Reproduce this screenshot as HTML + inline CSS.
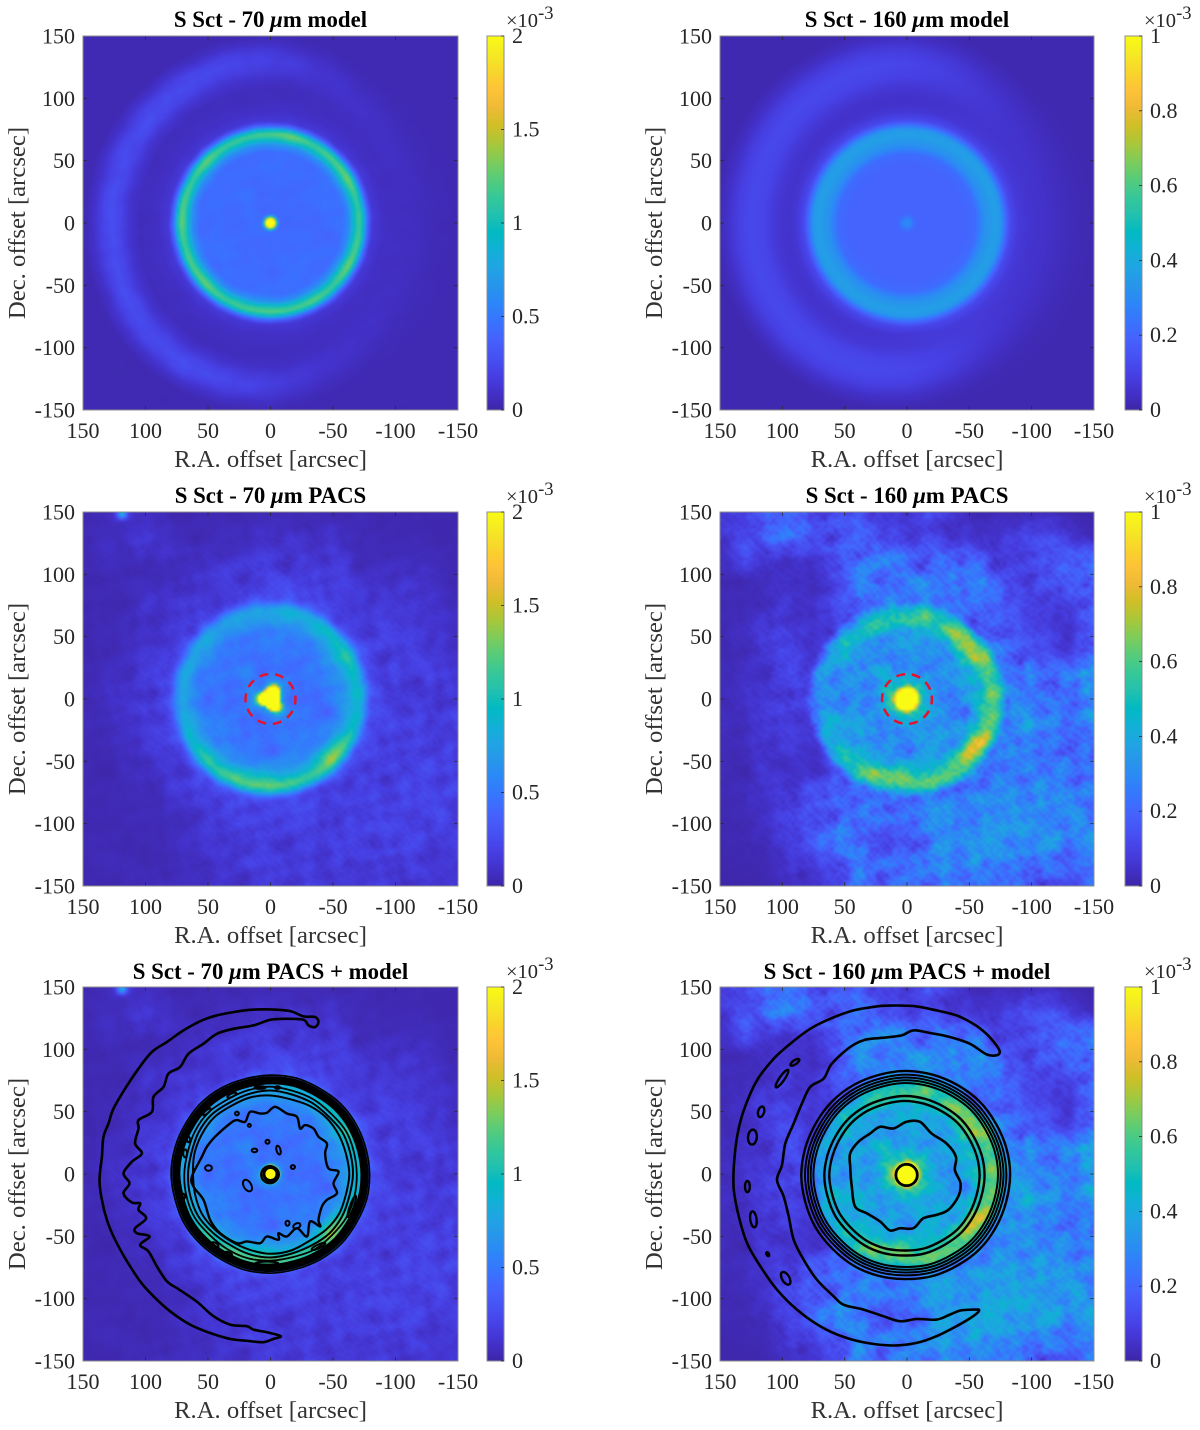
<!DOCTYPE html>
<html lang="en">
<head>
<meta charset="utf-8">
<title>S Sct model and PACS maps</title>
<style>
html,body{margin:0;padding:0;background:#fff;}
#figure{position:relative;width:1200px;height:1430px;overflow:hidden;background:#fff;}
canvas{position:absolute;display:block;}
#overlay{position:absolute;left:0;top:0;}
text{font-family:"Liberation Serif","Times New Roman",serif;fill:#262626;}
.title{font-size:22.8px;font-weight:bold;fill:#000;text-anchor:middle;}
.axis-label{font-size:24.7px;fill:#333;text-anchor:middle;}
.tick{font-size:22px;}
.mult{font-size:20.5px;}
.sup{font-size:18.5px;}
</style>
</head>
<body>
<div id="figure">
<canvas id="img0" width="375" height="374" style="left:83px;top:36px"></canvas>
<canvas id="img1" width="374" height="374" style="left:720px;top:36px"></canvas>
<canvas id="img2" width="375" height="374" style="left:83px;top:512px"></canvas>
<canvas id="img3" width="374" height="374" style="left:720px;top:512px"></canvas>
<canvas id="img4" width="375" height="374" style="left:83px;top:987px"></canvas>
<canvas id="img5" width="374" height="374" style="left:720px;top:987px"></canvas>
<canvas id="cb0" width="17" height="374" style="left:487px;top:36px"></canvas>
<canvas id="cb1" width="17" height="374" style="left:1125px;top:36px"></canvas>
<canvas id="cb2" width="17" height="374" style="left:487px;top:512px"></canvas>
<canvas id="cb3" width="17" height="374" style="left:1125px;top:512px"></canvas>
<canvas id="cb4" width="17" height="374" style="left:487px;top:987px"></canvas>
<canvas id="cb5" width="17" height="374" style="left:1125px;top:987px"></canvas>
<svg id="overlay" width="1200" height="1430" viewBox="0 0 1200 1430" xmlns="http://www.w3.org/2000/svg">
<text class="title" x="270.5" y="27">S Sct - 70 <tspan font-style="italic">μ</tspan>m model</text>
<text class="title" x="907" y="27">S Sct - 160 <tspan font-style="italic">μ</tspan>m model</text>
<text class="title" x="270.5" y="503">S Sct - 70 <tspan font-style="italic">μ</tspan>m PACS</text>
<text class="title" x="907" y="503">S Sct - 160 <tspan font-style="italic">μ</tspan>m PACS</text>
<text class="title" x="270.5" y="979">S Sct - 70 <tspan font-style="italic">μ</tspan>m PACS + model</text>
<text class="title" x="907" y="979">S Sct - 160 <tspan font-style="italic">μ</tspan>m PACS + model</text>

<text class="axis-label" x="270.5" y="467">R.A. offset [arcsec]</text>
<text class="axis-label" x="907" y="467">R.A. offset [arcsec]</text>
<text class="axis-label" x="270.5" y="943">R.A. offset [arcsec]</text>
<text class="axis-label" x="907" y="943">R.A. offset [arcsec]</text>
<text class="axis-label" x="270.5" y="1418">R.A. offset [arcsec]</text>
<text class="axis-label" x="907" y="1418">R.A. offset [arcsec]</text>

<text class="axis-label" transform="translate(25,223) rotate(-90)">Dec. offset [arcsec]</text>
<text class="axis-label" transform="translate(662,223) rotate(-90)">Dec. offset [arcsec]</text>
<text class="axis-label" transform="translate(25,699) rotate(-90)">Dec. offset [arcsec]</text>
<text class="axis-label" transform="translate(662,699) rotate(-90)">Dec. offset [arcsec]</text>
<text class="axis-label" transform="translate(25,1174) rotate(-90)">Dec. offset [arcsec]</text>
<text class="axis-label" transform="translate(662,1174) rotate(-90)">Dec. offset [arcsec]</text>

<text class="mult" x="506" y="27">×10<tspan class="sup" dy="-8">-3</tspan></text>
<text class="mult" x="1144" y="27">×10<tspan class="sup" dy="-8">-3</tspan></text>
<text class="mult" x="506" y="503">×10<tspan class="sup" dy="-8">-3</tspan></text>
<text class="mult" x="1144" y="503">×10<tspan class="sup" dy="-8">-3</tspan></text>
<text class="mult" x="506" y="978">×10<tspan class="sup" dy="-8">-3</tspan></text>
<text class="mult" x="1144" y="978">×10<tspan class="sup" dy="-8">-3</tspan></text>
</svg>
</div>
<script>
/* ---------- shared axis data ---------- */
const xTickValues = [150,100,50,0,-50,-100,-150];
const yTickValues = [150,100,50,0,-50,-100,-150];
const colorTicks70 = [0,0.5,1,1.5,2];
const colorTickLabels70 = ["0","0.5","1","1.5","2"];
const colorTicks160 = [0,0.2,0.4,0.6,0.8,1];
const colorTickLabels160 = ["0","0.2","0.4","0.6","0.8","1"];
const colormapStops = ["#3e26a8","#4332cb","#4741e5","#4752f4","#4563fd","#3875fe","#2d87f7","#2796eb","#20a5e3","#12b1d6","#02bac3","#24c1ae","#37c897","#57cc7a","#80cc59","#abc739","#d1bf27","#efba36","#fec338","#f9d52c","#f5e924","#f9fb15"];

/* ---------- 70 um model (values in 1e-3) ---------- */
const model70Ambient = [0.03];
const model70DiskRadius = [0,60,66,72,75,78,82,90,100,150];
const model70DiskValue = [0.38,0.40,0.43,0.46,0.40,0.22,0.10,0.05,0.03,0];
const model70RimRidge = [71];
const model70RimAmp = [0.66,0.72,0.8,0.68,0.74,0.68,0.76,0.72,0.66,0.8,0.74,0.68,0.8,0.72,0.66,0.8,0.68,0.68,0.74,0.8,0.68,0.74,0.8,0.66];
const model70RimOffset = [-14,-8,-4,0,3,6,10];
const model70RimWeight = [0,0.25,0.72,1,0.72,0.25,0];
const model70ShellRidge = [112,112,112,115,119,125,130,131,132,131,130,128,127,127,128,128,129,130,130,127,122,117,113,112];
const model70ShellAmp = [0.015,0.015,0.02,0.03,0.045,0.07,0.12,0.17,0.2,0.2,0.2,0.2,0.21,0.2,0.2,0.2,0.2,0.17,0.14,0.08,0.045,0.03,0.02,0.015];
const model70ShellOffset = [-22,-14,-7,0,7,14,22];
const model70ShellWeight = [0,0.3,0.78,1,0.78,0.3,0];
const model70StarRadius = [4];
const model70StarScale = [0,0.75,1.1,1.5,2];
const model70StarValue = [1.7,1.7,1.0,0.2,0];

/* ---------- 160 um model ---------- */
const model160Ambient = [0.012];
const model160DiskRadius = [0,3,6,10,45,55,62,70,75,79,83,90,100,150];
const model160DiskValue = [0.28,0.27,0.2,0.18,0.18,0.2,0.3,0.35,0.33,0.2,0.1,0.05,0.03,0];
const model160ShellRidge = [103,103,103,105,109,114,119,122,124,125,125,125,125,125,126,127,127,128,128,125,119,113,107,103];
const model160ShellAmp = [0.012,0.012,0.015,0.02,0.035,0.06,0.08,0.09,0.09,0.09,0.09,0.09,0.09,0.09,0.09,0.09,0.09,0.09,0.08,0.06,0.035,0.02,0.015,0.012];
const model160ShellOffset = [-30,-20,-10,0,10,20,30];
const model160ShellWeight = [0,0.3,0.78,1,0.78,0.3,0];

/* ---------- 70 um PACS ---------- */
const pacs70Ambient = [
[.05,.1,.08,.05,.05,.05,.05,.05,.05,.05,.05,.05,.05],
[.07,.08,.13,.08,.06,.07,.12,.1,.12,.06,.05,.05,.05],
[.05,.06,.05,.07,.12,.15,.17,.17,.14,.1,.1,.09,.05],
[.05,.05,.1,.12,.1,.12,.17,.19,.17,.12,.15,.14,.07],
[.05,.05,.09,.12,.15,.17,.17,.17,.17,.17,.15,.15,.09],
[.05,.07,.14,.14,.15,.17,.17,.17,.17,.17,.17,.17,.1],
[.05,.09,.15,.14,.15,.17,.17,.17,.17,.17,.15,.17,.15],
[.05,.07,.14,.14,.15,.17,.17,.17,.17,.17,.15,.19,.17],
[.05,.05,.09,.14,.15,.17,.17,.17,.17,.17,.17,.19,.19],
[.05,.05,.06,.12,.17,.17,.19,.17,.17,.17,.17,.19,.2],
[.05,.05,.05,.07,.14,.17,.17,.17,.17,.19,.2,.19,.17],
[.05,.07,.05,.06,.1,.14,.17,.14,.17,.17,.19,.17,.15],
[.05,.05,.07,.09,.09,.1,.14,.17,.15,.14,.15,.15,.12]];
const pacs70DiskRadius = [0,60,72,76,80,85,95,200];
const pacs70DiskValue = [0.3,0.33,0.4,0.3,0.14,0.07,0.02,0];
const pacs70RimRidge = [69,69,69,69,69,69,69.5,70,70,70,70,70,70,70,70,70,70,70,70,70,70,70,69,69];
const pacs70RimAmp = [0.38,0.42,0.6,0.95,0.6,0.62,0.78,0.75,0.65,0.65,0.45,0.32,0.26,0.26,0.26,0.28,0.28,0.28,0.28,0.3,0.36,0.46,0.55,0.46];
const pacs70RimOffset = [-24,-14,-7,0,4,8,12];
const pacs70RimWeight = [0,0.18,0.6,1,0.68,0.2,0];
const pacs70StarRadius = [7,7.5,9,10.5,10.5,9.5,8,7,6.3,6.3,8,9.5,9.5,9.5,8,7,7.5,8.5,9.5,10.5,10.5,9.5,8,7.5];
const pacs70StarScale = [0,0.9,1.05,1.25,1.6,2.5];
const pacs70StarValue = [2,2,1.4,0.4,0.1,0];
const pacs70ContourStarRadius = [6];
const pacs70SourceX = [118.8];
const pacs70SourceY = [148.4];
const pacs70SourceAmp = [0.75];
const pacs70SourceWidth = [3.5];

/* ---------- 160 um PACS ---------- */
const pacs160Ambient = [
[.1,.12,.14,.18,.15,.12,.14,.08,.05,.12,.06,.03,.03,.04,.05,.03,.03],
[.08,.12,.18,.22,.14,.16,.14,.1,.08,.08,.05,.05,.06,.1,.1,.08,.04],
[.05,.1,.08,.06,.05,.14,.2,.22,.18,.18,.2,.14,.1,.1,.14,.16,.2],
[.03,.03,.03,.04,.03,.08,.22,.22,.2,.24,.22,.2,.14,.08,.12,.18,.2],
[.03,.03,.05,.05,.03,.08,.18,.2,.22,.2,.2,.2,.14,.1,.08,.1,.16],
[.03,.03,.07,.07,.03,.07,.13,.13,.13,.13,.13,.15,.16,.08,.08,.05,.18],
[.03,.03,.06,.08,.03,.09,.12,.12,.12,.12,.12,.13,.2,.14,.1,.08,.2],
[.03,.03,.05,.08,.06,.11,.12,.12,.12,.12,.12,.14,.22,.22,.2,.22,.28],
[.03,.04,.06,.08,.06,.11,.12,.12,.12,.12,.12,.14,.22,.24,.22,.24,.3],
[.03,.03,.07,.06,.04,.11,.12,.12,.12,.12,.12,.14,.22,.26,.24,.24,.26],
[.03,.03,.05,.05,.03,.09,.12,.12,.12,.12,.12,.16,.22,.24,.2,.2,.22],
[.03,.03,.05,.03,.03,.09,.14,.12,.12,.12,.14,.18,.24,.24,.22,.2,.22],
[.03,.03,.05,.08,.1,.14,.18,.2,.22,.24,.24,.26,.26,.26,.24,.24,.24],
[.03,.03,.04,.1,.14,.18,.2,.18,.18,.24,.26,.28,.3,.3,.28,.26,.26],
[.03,.03,.05,.08,.12,.22,.2,.1,.14,.24,.28,.3,.34,.3,.3,.28,.3],
[.03,.03,.03,.08,.08,.14,.22,.16,.18,.26,.28,.3,.28,.26,.24,.22,.24],
[.03,.03,.03,.05,.06,.1,.2,.16,.2,.24,.22,.22,.2,.16,.14,.12,.2]];
const pacs160DiskRadius = [0,65,72,76,80,200];
const pacs160DiskValue = [0.19,0.2,0.18,0.12,0.04,0];
const pacs160RimRidge = [68,68,68,68,67,66,65,66,66,67,68,69,70,69,68,67,66,66,66,66,66,66,67,68];
const pacs160RimAmp = [0.24,0.28,0.44,0.4,0.28,0.26,0.31,0.31,0.32,0.26,0.18,0.11,0.07,0.07,0.13,0.18,0.23,0.18,0.18,0.22,0.3,0.44,0.36,0.26];
const pacs160RimOffset = [-18,-10,-5,0,5,9,13];
const pacs160RimWeight = [0,0.35,0.8,1,0.8,0.35,0];
const pacs160StarRadius = [9];
const pacs160StarScale = [0,0.9,1.05,1.3,2.2,3.2];
const pacs160StarValue = [1,1,0.6,0.22,0.08,0];

/* ---------- speckle texture ---------- */
const speckleTile = [
[3,-5,7,-2,-8,4,1,-6,9,-3,2,-7,5,0,-4,6],
[-6,2,-1,8,3,-7,5,2,-4,7,-8,1,-3,6,9,-2],
[5,8,-4,-7,1,6,-3,9,0,-5,4,3,-9,2,-1,7],
[-2,0,6,3,-9,-1,8,-4,5,2,-6,7,1,-8,4,-5],
[7,-3,-8,5,2,9,-6,1,-7,4,0,-2,8,3,-5,-1],
[1,6,4,-5,7,-2,-9,3,8,-1,5,-6,-3,9,2,-4],
[-8,-4,2,9,-3,5,0,-7,6,1,-2,8,4,-6,7,3],
[4,9,-6,-1,6,-8,3,7,-2,-5,9,0,-4,1,-7,5],
[-1,3,7,-9,0,2,-5,8,4,-3,-7,6,2,5,-6,-8],
[8,-7,1,4,-6,7,9,-2,-4,6,3,-9,-1,7,0,2],
[-5,2,-3,6,8,-4,1,5,-8,9,-1,4,7,-2,3,-6],
[2,-9,5,0,-7,3,-6,4,7,-2,8,1,-5,6,-3,9],
[6,4,-2,-8,5,1,7,-3,-9,3,-4,2,9,-7,8,-1],
[-3,7,9,2,-4,-6,4,0,1,8,5,-8,-2,3,-9,6],
[9,-1,-7,3,6,8,-2,-5,2,-6,7,-3,0,4,5,-4],
[0,5,3,-6,-1,-5,6,9,-3,4,-9,8,-7,-4,1,2]];

/* ---------- model contours (arcsec) ---------- */
const crescent70X = [-38.4,-35.7,-26.4,-15.7,.3,16.3,29.6,42.9,54.9,69.6,82.9,94.9,105.6,116.3,125.6,129.6,133.6,134.9,136.8,134.9,130.9,125.6,116.3,104.3,93.6,80.3,64.3,48.3,32.3,16.3,5.6,-2.4,-8.3,.3,13.6,18.9,32.3,45.6,57.6,66.9,74.9,82.9,90.9,97.6,104.3,96.8,106.9,108.3,99.5,105.6,104.3,110.9,117.6,112.8,117.6,110.9,102.9,108.3,105.6,105.6,94.9,93.6,85.6,81.6,72.3,65.6,53.6,42.9,29.6,13.6,.3,-13.1,-26.4,-30.4,-35.7];
const crescent70Y = [121.9,125.9,126.4,130.7,132,131.7,129.9,127.2,123.2,115.2,105.9,97.9,84.5,68.5,52.5,40.5,29.9,13.9,-4.8,-20.8,-36.8,-50.1,-67.5,-86.1,-98.1,-110.1,-120.8,-127.5,-132.3,-134.1,-134.9,-132.3,-130.1,-127.5,-124.8,-122.1,-120.8,-114.1,-103.5,-96.8,-91.5,-86.1,-74.1,-62.1,-56.8,-50.1,-47.5,-43.5,-35.5,-28.8,-23.5,-22.9,-15.5,-7.5,.5,9.9,16.5,24.5,36.5,43.2,49.9,61.9,69.9,80.5,85.9,96.5,104.5,112.5,116.5,119.2,123.7,124.5,123.7,119.2,117.9];
const inner70X = [62.9,54.9,50.9,44.3,32.3,26.9,20.3,16.3,8.3,2.9,-3.7,-13.1,-21.1,-23.7,-27.7,-34.4,-38.4,-45.1,-43.7,-46.4,-54.4,-50.4,-53.1,-45.1,-41.1,-38.4,-39.7,-31.7,-29.1,-21.1,-13.1,-6.4,-6.4,2.9,8.3,18.9,26.9,40.3,48.3,53.6,61.6];
const inner70Y = [-2.1,13.9,21.9,29.9,40.5,43.2,41.9,49.9,48.5,49.1,53.9,48.5,45.9,36.5,39.2,36.5,29.9,24.5,16.5,4.5,1.9,-7.5,-15.5,-20.8,-26.1,-36.8,-42.1,-38.1,-50.1,-43.5,-50.1,-47.5,-52.8,-50.1,-55.5,-54.1,-55.5,-47.5,-36.8,-20.8,-10.1];
const island70X = [26.9,17,2.4,12.8,-6.4,-17.9,49.6,18.4,-13.6,-21,65.6,68.3,69.6,44.3,33.6,-5.6,8.3,30.9,50.9,-38.4,2.9,-65];
const island70Y = [48.5,39,25.9,18.9,19.2,5.6,4.8,-9.3,-39.5,-41.6,27.7,16.5,-18,-56.8,-64,69.3,69.3,63.2,49.9,-58.1,-71.5,-26];
const island70RadiusA = [1.5,1.2,1.6,2.2,1.6,1.7,2.7,3,1.6,3,1.2,1.5,1.2,3,3,2,4.5,4,4,6,9,1.5];
const island70RadiusB = [1.5,1.2,1.6,1.4,3.6,1.5,2.2,5,2,2,2.2,3.2,2.2,1.5,1.3,1,1,1.3,1.3,1.4,1.2,9];
const island70Tilt = [0,0,0,0,-15,0,0,-30,0,-25,0,0,0,30,20,0,0,-25,-40,-25,0,20];
const ringAngles = [-180,-165,-150,-135,-120,-105,-90,-75,-60,-45,-30,-15,0,15,30,45,60,75,90,105,120,135,150,165];
const ring70Levels = [79.3,77.8,76.6,75.6,74.6,73.6,72.6];
const ring70Shape = [0,.3,-.2,.3,0,-.3,.2,.3,-.2,0,.3,-.3,.2,0,-.2,.3,.2,-.3,0,.3,-.2,.2,0,-.3];
const ring70Outer = [69,69.5,70,69.5,70,69,69.5,70,69.5,69,70,69.5,69,68.5,69.5,70,69,69.5,70,69,69,68.5,69.5,69];
const ring70Middle = [66,65.5,66.5,67,66,66,67,66.5,65.5,66,67,66.5,66,65.5,66.5,67,66,66.5,67,66,66,65.5,66.5,66];
const ring70Inner = [63,62.5,63.5,63,62,63.5,64,63,62.5,63,63.5,62.5,62,63,63.5,64,63,63.5,63,62,63,63.5,63,62.5];
const star70ContourX = [0,-.6,.6];
const star70ContourY = [0,-.3,-.6];
const star70ContourR = [5,6,6.8];

const crescent160X = [-74.4,-71.7,-63.7,-53.1,-39.7,-23.7,-7.7,8.3,24.3,42.9,61.6,77.6,93.6,106.9,120.3,130.9,136.3,138.9,138.9,134.9,128.3,117.6,104.3,88.3,69.6,50.9,32.3,10.9,-7.7,-23.7,-39.7,-53.1,-57.9,-53.1,-42.4,-34.4,-23.7,-7.7,5.6,18.9,34.9,50.9,58.9,72.3,82.9,90.9,94.9,98.9,104.3,100.3,97.6,90.9,84.3,77.6,66.9,60.3,45.6,33.6,18.9,4.3,-5.1,-18.4,-34.4,-50.4,-63.7,-71.7];
const crescent160Y = [97.9,103.2,112.5,120.5,127.2,131.2,134.4,135.2,134.4,131.2,124.5,116.5,104.5,92.5,75.2,51.2,29.9,5.9,-12.8,-34.1,-55.5,-74.1,-92.8,-108.8,-122.1,-130.7,-135.5,-137.6,-135.5,-130.1,-122.1,-114.1,-109.3,-108.8,-109.6,-112.8,-116.8,-116.3,-118.1,-114.1,-108.8,-104.8,-98.1,-84.8,-68.8,-52.8,-34.1,-18.1,-4.8,7.2,24.5,40.5,56.5,69.9,76.5,88.5,101.9,107.7,109.3,111.2,115.2,113.1,109.9,104.5,96,95.2];
const inner160X = [45.6,38.9,29.6,21.6,10.9,.3,-10.4,-19.7,-31.7,-39.2,-38.4,-42.9,-41.1,-33.1,-23.7,-13.1,-5.1,5.6,13.6,21.6,32.3,41.6,44.3,45.6];
const inner160Y = [16.5,25.9,32.5,37.9,36.5,41.9,41.9,32.5,24.5,13.9,3.2,-7.5,-18.1,-28.8,-32.8,-35.5,-43.5,-43.5,-45.3,-38.1,-31.5,-26.1,-10.1,5.9];
const island160X = [89.9,100.3,117,124,128,123.2,111.7,97.3];
const island160Y = [89.6,76.5,49.9,29.6,-10.1,-36.3,-64.3,-83.7];
const island160RadiusA = [4.2,8.5,2.4,3.5,1.9,2.6,1,3];
const island160RadiusB = [1.6,2,4.3,6,4.5,6.4,1.8,5.6];
const island160Tilt = [-35,-55,15,5,0,-8,-30,-30];
const ring160Levels = [83.5,80.5,78.2,76,73.8,64,60];
const ring160CenterX = [1,1,1,1,1,2,2];
const ring160CenterY = [-1,-1,-1,-1,-1,-1.6,-1.6];
const ring160LineWidth = [2.4,2,2,2,2,2.4,2.4];
const ring160Shape = [.2,-.2,0,.3,-.1,.2,-.2,.1,.2,-.2,.1,-.1,.3,0,-.2,.2,.1,-.2,.2,0,-.1,.2,-.2,.1];
const star160ContourX = [.3];
const star160ContourY = [-.8];
const star160ContourR = [8.6];

/* ---------- aperture circle (arcsec) ---------- */
const apertureRadius = [20];

/* ---------- panels ---------- */
const spec70Model = {max:2,cells:187,ambient:model70Ambient,diskR:model70DiskRadius,diskV:model70DiskValue,
  arcs:[{ridge:model70RimRidge,amp:model70RimAmp,off:model70RimOffset,wt:model70RimWeight},
        {ridge:model70ShellRidge,amp:model70ShellAmp,off:model70ShellOffset,wt:model70ShellWeight}],
  starR:model70StarRadius,starT:model70StarScale,starV:model70StarValue,fine:0.004,med:0.02,cloud:0.025,cap:0.3,gain:1,arcGain:1,bias:0};
const spec160Model = {max:1,cells:187,ambient:model160Ambient,diskR:model160DiskRadius,diskV:model160DiskValue,
  arcs:[{ridge:model160ShellRidge,amp:model160ShellAmp,off:model160ShellOffset,wt:model160ShellWeight}],
  fine:0,med:0,cloud:0,cap:0.3,gain:1,arcGain:1,bias:0};
const spec70Pacs = {max:2,cells:135,ambient:pacs70Ambient,diskR:pacs70DiskRadius,diskV:pacs70DiskValue,
  arcs:[{ridge:pacs70RimRidge,amp:pacs70RimAmp,off:pacs70RimOffset,wt:pacs70RimWeight}],
  starR:pacs70StarRadius,starT:pacs70StarScale,starV:pacs70StarValue,
  sx:pacs70SourceX,sy:pacs70SourceY,sa:pacs70SourceAmp,sw:pacs70SourceWidth,fine:0.03,med:0.06,cloud:0.07,cap:0.16,gain:1,arcGain:1,bias:-0.03};
const spec70PacsContour = Object.assign({},spec70Pacs,{starR:pacs70ContourStarRadius});
const spec160Pacs = {max:1,cells:115,ambient:pacs160Ambient,diskR:pacs160DiskRadius,diskV:pacs160DiskValue,
  arcs:[{ridge:pacs160RimRidge,amp:pacs160RimAmp,off:pacs160RimOffset,wt:pacs160RimWeight}],
  starR:pacs160StarRadius,starT:pacs160StarScale,starV:pacs160StarValue,fine:0.055,med:0.07,cloud:0.08,cap:0.2,gain:1,arcGain:1,bias:-0.025};
const spec160PacsB = Object.assign({},spec160Pacs,{gain:1.2,arcGain:0.75});

const panels = [
 {slug:'70um-model',left:83,top:36,w:375,h:374,barLeft:487,spec:spec70Model,ticks:colorTicks70,labels:colorTickLabels70},
 {slug:'160um-model',left:720,top:36,w:374,h:374,barLeft:1125,spec:spec160Model,ticks:colorTicks160,labels:colorTickLabels160},
 {slug:'70um-pacs',left:83,top:512,w:375,h:374,barLeft:487,spec:spec70Pacs,ticks:colorTicks70,labels:colorTickLabels70},
 {slug:'160um-pacs',left:720,top:512,w:374,h:374,barLeft:1125,spec:spec160Pacs,ticks:colorTicks160,labels:colorTickLabels160},
 {slug:'70um-pacs-model',left:83,top:987,w:375,h:374,barLeft:487,spec:spec70PacsContour,ticks:colorTicks70,labels:colorTickLabels70},
 {slug:'160um-pacs-model',left:720,top:987,w:374,h:374,barLeft:1125,spec:spec160PacsB,ticks:colorTicks160,labels:colorTickLabels160}
];

/* ---------- helpers ---------- */
const svg = document.getElementById('overlay');
const NS = 'http://www.w3.org/2000/svg';
function hex(c){return [parseInt(c.slice(1,3),16),parseInt(c.slice(3,5),16),parseInt(c.slice(5,7),16)];}
const stopsRGB = colormapStops.map(hex);
function colorAt(t){
  t = Math.max(0,Math.min(1,t));
  const p = t*(stopsRGB.length-1), i = Math.min(stopsRGB.length-2,Math.floor(p)), f = p-i;
  return [0,1,2].map(k=>stopsRGB[i][k]+(stopsRGB[i+1][k]-stopsRGB[i][k])*f);
}
function interp(xs,ys,x){
  if(x<=xs[0]) return ys[0];
  const n = xs.length;
  if(x>=xs[n-1]) return ys[n-1];
  for(let i=1;i<n;i++){ if(x<=xs[i]){ const f=(x-xs[i-1])/(xs[i]-xs[i-1]); return ys[i-1]+(ys[i]-ys[i-1])*f; } }
  return ys[n-1];
}
function circ(arr,deg){
  const n = arr.length;
  if(n===1) return arr[0];
  const p = ((deg+180)/360)*n, i=Math.floor(p), f=p-i;
  return arr[i%n]+(arr[(i+1)%n]-arr[i%n])*f;
}
function ambientAt(grid,x,y){
  if(grid.length===1 && !Array.isArray(grid[0])) return grid[0];
  const n = grid.length;
  const u = (150-x)/300*(n-1), v=(150-y)/300*(n-1);
  const i = Math.max(0,Math.min(n-2,Math.floor(u))), j = Math.max(0,Math.min(n-2,Math.floor(v)));
  const fu=u-i, fv=v-j;
  return grid[j][i]*(1-fu)*(1-fv)+grid[j][i+1]*fu*(1-fv)+grid[j+1][i]*(1-fu)*fv+grid[j+1][i+1]*fu*fv;
}
function rawTile(i,j){return speckleTile[((j%16)+16)%16][((i%16)+16)%16];}
function fineAt(i,j){
  const bi=i>>3, bj=j>>3, sa=rawTile(bi,bj), sb=rawTile(bj+5,bi+3);
  return rawTile(i+sa,j+sb)/9;
}
function smoothTile(u,v){
  const a=Math.floor(u), b=Math.floor(v);
  let fu=u-a, fv=v-b;
  fu=fu*fu*(3-2*fu);
  fv=fv*fv*(3-2*fv);
  return (rawTile(a,b)*(1-fu)*(1-fv)+rawTile(a+1,b)*fu*(1-fv)+rawTile(a,b+1)*(1-fu)*fv+rawTile(a+1,b+1)*fu*fv)/9;
}
function mediumAt(px,py){
  return smoothTile((.5*px-.866*py)*37+9,(.866*px+.5*py)*37+4);
}
function cloudAt(px,py){
  const broad=smoothTile(px*16,py*16);
  const mid=smoothTile((.8*px+.6*py)*25+3,(-.6*px+.8*py)*25+11);
  return .7*broad+.7*mid;
}
function fieldValue(s,x,y,noise){
  const r=Math.hypot(x,y), a=Math.atan2(y,x)*180/Math.PI;
  let v = (Math.max(0,ambientAt(s.ambient,x,y)+s.bias)+interp(s.diskR,s.diskV,r))*s.gain;
  for(const arc of s.arcs){
    v += s.arcGain*circ(arc.amp,a)*interp(arc.off,arc.wt,r-circ(arc.ridge,a));
  }
  v = Math.max(0,v+noise*Math.min(v,s.cap)/s.cap);
  if(s.sx){
    for(let k=0;k<s.sx.length;k++){
      const d=Math.hypot(x-s.sx[k],y-s.sy[k])/s.sw[k];
      v += s.sa[k]*interp([0,.5,1,1.6,2.4],[1,.8,.4,.1,0],d);
    }
  }
  if(s.starR){
    v += interp(s.starT,s.starV,r/circ(s.starR,a));
  }
  return v;
}
function drawHeatmap(canvas,s){
  const n=s.cells, off=document.createElement('canvas');
  off.width=n; off.height=n;
  const octx=off.getContext('2d'), img=octx.createImageData(n,n);
  for(let j=0;j<n;j++){
    for(let i=0;i<n;i++){
      const x=150-(i+.5)/n*300, y=150-(j+.5)/n*300;
      const px=(i+.5)/n, py=(j+.5)/n;
      const noise=s.fine*fineAt(i,j)+s.med*mediumAt(px,py)+s.cloud*cloudAt(px,py);
      const c=colorAt(fieldValue(s,x,y,noise)/s.max), o=(j*n+i)*4;
      img.data[o]=c[0]; img.data[o+1]=c[1]; img.data[o+2]=c[2]; img.data[o+3]=255;
    }
  }
  octx.putImageData(img,0,0);
  const ctx=canvas.getContext('2d');
  ctx.imageSmoothingEnabled=true;
  ctx.imageSmoothingQuality='high';
  ctx.drawImage(off,0,0,canvas.width,canvas.height);
}
function drawColorbar(canvas){
  const ctx=canvas.getContext('2d'), h=canvas.height;
  for(let y=0;y<h;y++){
    const c=colorAt(1-y/(h-1));
    ctx.fillStyle='rgb('+c.map(Math.round).join(',')+')';
    ctx.fillRect(0,y,canvas.width,1);
  }
}
function xScale(p){return v=>p.left+p.w/2-v*p.w/300;}
function yScale(p){return v=>p.top+p.h/2-v*p.h/300;}
function smoothClosed(pts){
  const n=pts.length;
  let d='M'+pts[0][0].toFixed(1)+' '+pts[0][1].toFixed(1);
  for(let i=0;i<n;i++){
    const p0=pts[(i-1+n)%n],p1=pts[i],p2=pts[(i+1)%n],p3=pts[(i+2)%n];
    const c1x=p1[0]+(p2[0]-p0[0])/6,c1y=p1[1]+(p2[1]-p0[1])/6,c2x=p2[0]-(p3[0]-p1[0])/6,c2y=p2[1]-(p3[1]-p1[1])/6;
    d+='C'+c1x.toFixed(1)+' '+c1y.toFixed(1)+' '+c2x.toFixed(1)+' '+c2y.toFixed(1)+' '+p2[0].toFixed(1)+' '+p2[1].toFixed(1);
  }
  return d+'Z';
}
function contourPath(parent,p,xs,ys,width){
  const sx=xScale(p), sy=yScale(p);
  const el=document.createElementNS(NS,'path');
  el.setAttribute('d',smoothClosed(xs.map((x,i)=>[sx(x),sy(ys[i])])));
  el.setAttribute('fill','none');
  el.setAttribute('stroke','#000');
  el.setAttribute('stroke-width',width);
  el.setAttribute('stroke-linejoin','round');
  
  
  parent.appendChild(el);
}
function ringPath(parent,p,radii,cx,cy,width){
  const xs=ringAngles.map((a,i)=>cx+radii[i]*Math.cos(a*Math.PI/180));
  const ys=ringAngles.map((a,i)=>cy+radii[i]*Math.sin(a*Math.PI/180));
  contourPath(parent,p,xs,ys,width);
}
function ellipses(parent,p,xs,ys,ra,rb,tilt,width){
  const sx=xScale(p), sy=yScale(p), k=p.w/300;
  xs.forEach((x,i)=>{
    const el=document.createElementNS(NS,'ellipse');
    el.setAttribute('cx',sx(x).toFixed(1));
    el.setAttribute('cy',sy(ys[i]).toFixed(1));
    el.setAttribute('rx',(ra[i]*k).toFixed(1));
    el.setAttribute('ry',(rb[i]*k).toFixed(1));
    el.setAttribute('transform','rotate('+tilt[i]+' '+sx(x).toFixed(1)+' '+sy(ys[i]).toFixed(1)+')');
    el.setAttribute('fill','none');
    el.setAttribute('stroke','#000');
    el.setAttribute('stroke-width',width);
    
    
    parent.appendChild(el);
  });
}
function starContours(parent,p,xs,ys,rs,width){
  const sx=xScale(p), sy=yScale(p), k=p.w/300;
  xs.forEach((x,i)=>{
    const el=document.createElementNS(NS,'circle');
    el.setAttribute('cx',sx(x).toFixed(1));
    el.setAttribute('cy',sy(ys[i]).toFixed(1));
    el.setAttribute('r',(rs[i]*k).toFixed(1));
    el.setAttribute('fill','none');
    el.setAttribute('stroke','#000');
    el.setAttribute('stroke-width',width);
    
    
    parent.appendChild(el);
  });
}
function aperture(parent,p){
  const el=document.createElementNS(NS,'circle');
  el.setAttribute('cx',xScale(p)(0));
  el.setAttribute('cy',yScale(p)(0));
  el.setAttribute('r',apertureRadius[0]*p.w/300);
  el.setAttribute('fill','none');
  el.setAttribute('stroke','#e4122d');
  el.setAttribute('stroke-width','2.5');
  el.setAttribute('stroke-dasharray','9 6.7');
  el.setAttribute('transform','rotate(-8 '+xScale(p)(0)+' '+yScale(p)(0)+')');
  
  
  parent.appendChild(el);
}
function tickLine(parent,x1,y1,x2,y2){
  const el=document.createElementNS(NS,'line');
  el.setAttribute('x1',x1); el.setAttribute('y1',y1);
  el.setAttribute('x2',x2); el.setAttribute('y2',y2);
  el.setAttribute('stroke','#262626');
  el.setAttribute('stroke-width','0.8');
  
  
  parent.appendChild(el);
}
function tickText(parent,x,y,str,anchor){
  const el=document.createElementNS(NS,'text');
  el.setAttribute('x',x); el.setAttribute('y',y);
  el.setAttribute('class','tick');
  el.setAttribute('text-anchor',anchor);
  
  
  el.textContent=str;
  parent.appendChild(el);
}
function frame(parent,x,y,w,h,name){
  const el=document.createElementNS(NS,'rect');
  el.setAttribute('x',x); el.setAttribute('y',y);
  el.setAttribute('width',w); el.setAttribute('height',h);
  el.setAttribute('fill','none');
  el.setAttribute('stroke','#8c8c8c');
  el.setAttribute('stroke-width','1');
  
  
  parent.appendChild(el);
}

/* ---------- draw ---------- */
panels.forEach((p,idx)=>{
  drawHeatmap(document.getElementById('img'+idx),p.spec);
  drawColorbar(document.getElementById('cb'+idx));
  const g=document.createElementNS(NS,'g');
  
  
  svg.appendChild(g);
  const sx=xScale(p), sy=yScale(p), bottom=p.top+p.h, right=p.left+p.w;
  xTickValues.forEach(v=>{
    tickLine(g,sx(v),bottom,sx(v),bottom-3.75);
    tickLine(g,sx(v),p.top,sx(v),p.top+3.75);
    tickText(g,sx(v),bottom+28,String(v),'middle');
  });
  yTickValues.forEach(v=>{
    tickLine(g,p.left,sy(v),p.left+3.75,sy(v));
    tickLine(g,right,sy(v),right-3.75,sy(v));
    tickText(g,p.left-8,sy(v)+7.5,String(v),'end');
  });
  frame(g,p.left,p.top,p.w,p.h,'axes-box');
  frame(g,p.barLeft,p.top,17,p.h,'colorbar-box');
  p.ticks.forEach((v,i)=>{
    const y=bottom-v/p.spec.max*p.h;
    tickLine(g,p.barLeft+17,y,p.barLeft+14,y);
    tickText(g,p.barLeft+25,y+7,p.labels[i],'start');
  });
  if(idx===2||idx===3){ aperture(g,p); }
  if(idx===4){
    contourPath(g,p,crescent70X,crescent70Y,2.6);
    contourPath(g,p,inner70X,inner70Y,2.4);
    ellipses(g,p,island70X,island70Y,island70RadiusA,island70RadiusB,island70Tilt,2);
    ring70Levels.forEach(level=>{
      ringPath(g,p,ring70Shape.map(d=>level+d),0,0,1.7);
    });
    ringPath(g,p,ring70Outer,0,0,1.8);
    ringPath(g,p,ring70Middle,0,0,2);
    ringPath(g,p,ring70Inner,0,0,2);
    starContours(g,p,star70ContourX,star70ContourY,star70ContourR,2.4);
  }
  if(idx===5){
    contourPath(g,p,crescent160X,crescent160Y,2.6);
    contourPath(g,p,inner160X,inner160Y,2.6);
    ellipses(g,p,island160X,island160Y,island160RadiusA,island160RadiusB,island160Tilt,2.4);
    ring160Levels.forEach((level,i)=>{
      ringPath(g,p,ring160Shape.map(d=>level+d),ring160CenterX[i],ring160CenterY[i],ring160LineWidth[i]);
    });
    starContours(g,p,star160ContourX,star160ContourY,star160ContourR,2.8);
  }
});
</script>
</body>
</html>
